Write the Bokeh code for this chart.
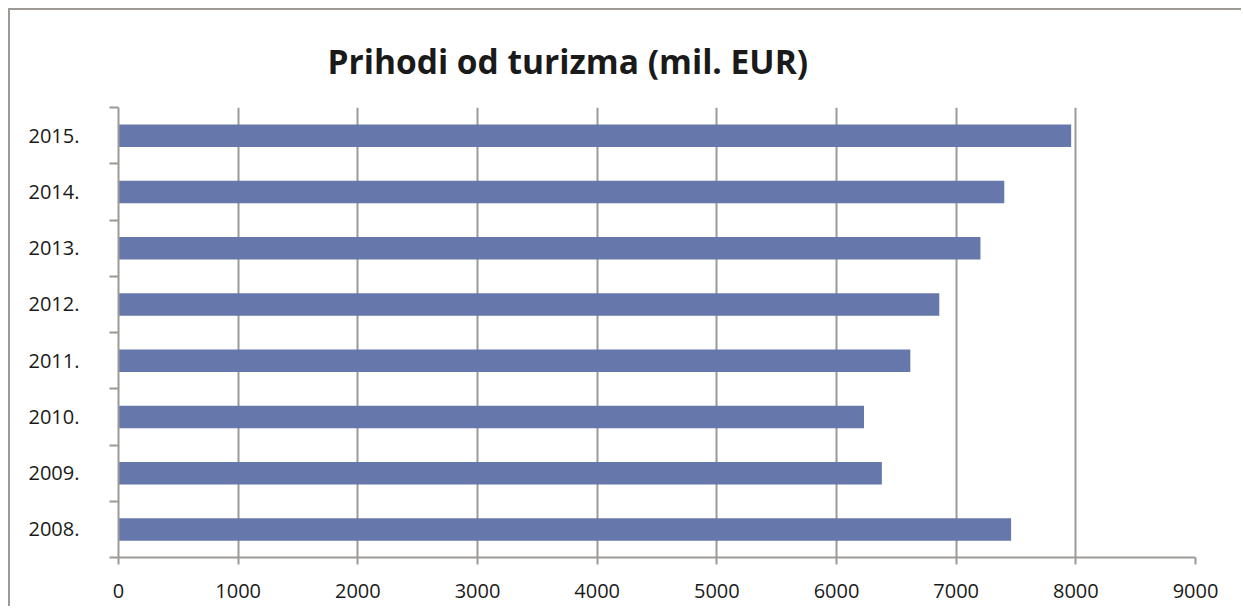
from bokeh.plotting import figure
from bokeh.models import FixedTicker, Title
from bokeh.embed import file_html
from bokeh.resources import INLINE

years = ["2008.", "2009.", "2010.", "2011.", "2012.", "2013.", "2014.", "2015."]
revenue = [7459, 6379, 6230, 6617, 6859, 7203, 7402, 7961]
x_ticks = [0, 1000, 2000, 3000, 4000, 5000, 6000, 7000, 8000, 9000]

centers = [i + 0.5 for i in range(len(years))]
bounds = [i for i in range(len(years) + 1)]

GRAY = "#9d9995"
BAR = "#6678AB"
FONT = "Open Sans"

p = figure(width=1233, height=598, output_backend="svg", toolbar_location=None,
           x_range=(0, 9000), y_range=(0, len(years)),
           min_border_left=108, min_border_right=48, min_border_top=97, min_border_bottom=51)
p.styles = {"margin-left": "8px", "margin-top": "8px",
            "border-top": f"2px solid {GRAY}", "border-left": f"2px solid {GRAY}"}
p.outline_line_color = None
p.background_fill_color = "white"
p.border_fill_color = "white"

p.hbar(y=centers, right=revenue, left=0, height=0.4, color=BAR, line_color=None)

title = Title(text="Prihodi od turizma (mil. EUR)", align="left", offset=209,
              text_font=FONT, text_font_size="33.5px", text_font_style="bold",
              text_color="#1a1a1a", standoff=48, vertical_align="bottom")
p.add_layout(title, "above")

# x axis
p.xaxis.ticker = FixedTicker(ticks=x_ticks)
p.xaxis.major_tick_out = 7
p.xaxis.major_tick_in = 0
p.xaxis.minor_tick_line_color = None
p.xaxis.axis_line_color = GRAY
p.xaxis.axis_line_width = 2
p.xaxis.major_tick_line_color = GRAY
p.xaxis.major_tick_line_width = 2
p.xaxis.major_label_text_font = FONT
p.xaxis.major_label_text_font_size = "20px"
p.xaxis.major_label_text_color = "#1a1a1a"
p.xaxis.major_label_standoff = 19

# y axis: labels at centers, ticks at boundaries (minor ticks)
p.yaxis.ticker = FixedTicker(ticks=centers, minor_ticks=bounds)
p.yaxis.major_label_overrides = {c: y for c, y in zip(centers, years)}
p.yaxis.major_tick_line_color = None
p.yaxis.major_tick_out = 0
p.yaxis.major_tick_in = 0
p.yaxis.minor_tick_out = 9
p.yaxis.minor_tick_in = 0
p.yaxis.minor_tick_line_color = GRAY
p.yaxis.minor_tick_line_width = 2
p.yaxis.axis_line_color = GRAY
p.yaxis.axis_line_width = 2
p.yaxis.major_label_text_font = FONT
p.yaxis.major_label_text_font_size = "20px"
p.yaxis.major_label_text_color = "#1a1a1a"
p.yaxis.major_label_standoff = 30

p.xgrid.ticker = FixedTicker(ticks=x_ticks)
p.xgrid.grid_line_color = GRAY
p.xgrid.grid_line_width = 2
p.ygrid.grid_line_color = None

open("out.html", "w").write(file_html(p, INLINE))
